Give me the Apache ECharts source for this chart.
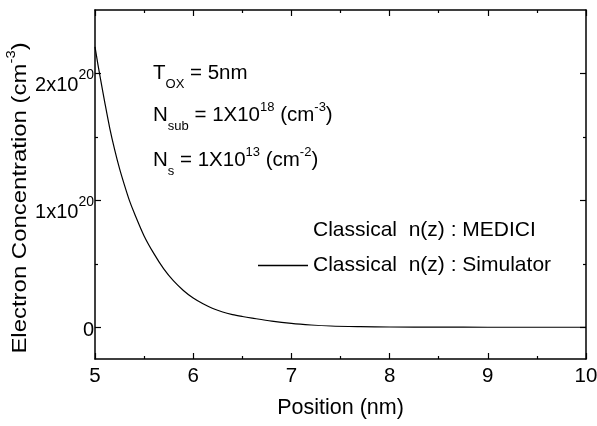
<!DOCTYPE html>
<html>
<head>
<meta charset="utf-8">
<script src="https://cdn.jsdelivr.net/npm/echarts@6/dist/echarts.min.js"></script>
<style>
  html, body { margin: 0; padding: 0; background: #ffffff; }
  #chart { width: 597px; height: 426px; }
</style>
</head>
<body>
<div id="chart"></div>
<script>
const FONT = '"Liberation Sans", Arial, Helvetica, sans-serif';

// Position along the depth (nm)
const position = [5.00, 5.03, 5.06, 5.10, 5.15, 5.20, 5.25, 5.30, 5.35, 5.40, 5.50,
                  5.60, 5.70, 5.80, 5.90, 6.00, 6.10, 6.20, 6.30, 6.40, 6.50, 6.60,
                  6.80, 7.00, 7.20, 7.40, 7.70, 8.00, 8.50, 9.00, 10.00];
// Classical n(z) from the simulator, in units of 1e20 cm^-3
const simulator = [2.21, 2.07, 1.94, 1.77, 1.57, 1.40, 1.25, 1.12, 1.00, 0.90, 0.72,
                   0.58, 0.46, 0.365, 0.29, 0.23, 0.185, 0.148, 0.12, 0.10, 0.085, 0.072,
                   0.048, 0.030, 0.018, 0.010, 0.005, 0.002, 0.001, 0.0, 0.0];
// Classical n(z) from MEDICI (no points drawn)
const medici = [];

const seriesNames = ['Classical  n(z) : MEDICI', 'Classical  n(z) : Simulator'];

const xMin = 5, xMax = 10, xStep = 1;
const yMin = -0.25, yMax = 2.5;
const yMajorTicks = [0, 1, 2];
const yMinorTicks = [0.5, 1.5];
const yTickLabels = { 0: '{z|0}', 1: '{b|1x10}{s|20}', 2: '{b|2x10}{s|20}' };
const yAxisTitle = '{b|Electron Concentration (cm}{s|-3}{b|)}';

const annotations = [
  '{m|T}{sub|OX}{m| = 5nm}',
  '{m|N}{sub|sub}{m| = 1X10}{sup|18}{m| (cm}{sup|-3}{m|)}',
  '{m|N}{sub|s}{m| = 1X10}{sup|13}{m| (cm}{sup|-2}{m|)}'
];
const annotationY = [73, 115, 160];

const AXIS_COLOR = '#000';
const annRich = {
  m:   { fontSize: 20.5, fontFamily: FONT, color: '#000', lineHeight: 44, verticalAlign: 'middle' },
  sub: { fontSize: 13, fontFamily: FONT, color: '#000', verticalAlign: 'bottom', padding: [0, 0, 4, 0] },
  sup: { fontSize: 13, fontFamily: FONT, color: '#000', verticalAlign: 'top', padding: [8, 0, 0, 0] }
};

const chart = echarts.init(document.getElementById('chart'), null, { renderer: 'canvas' });

function xAxisDef(pos, showLabels) {
  return {
    type: 'value', position: pos, min: xMin, max: xMax, interval: xStep,
    axisLine: { show: true, onZero: false, lineStyle: { color: AXIS_COLOR, width: 1.5 } },
    axisTick: { show: true, inside: true, length: 6, lineStyle: { color: AXIS_COLOR, width: 1.2 } },
    minorTick: { show: true, splitNumber: 2, length: 3, lineStyle: { color: AXIS_COLOR, width: 1.2 } },
    splitLine: { show: false },
    axisLabel: showLabels
      ? { show: true, margin: 7, fontSize: 20.5, fontFamily: FONT, color: '#000' }
      : { show: false },
    name: showLabels ? 'Position (nm)' : '',
    nameLocation: 'middle', nameGap: 38,
    nameTextStyle: { fontSize: 21.5, fontFamily: FONT, color: '#000' }
  };
}

function yAxisDef(pos, ticks, len, showLine, showLabels) {
  const def = {
    type: 'value', position: pos, min: yMin, max: yMax,
    axisLine: { show: showLine, onZero: false, lineStyle: { color: AXIS_COLOR, width: 1.5 } },
    axisTick: { show: true, inside: true, length: len, customValues: ticks,
                lineStyle: { color: AXIS_COLOR, width: 1.2 } },
    splitLine: { show: false },
    axisLabel: { show: false }
  };
  if (showLabels) {
    def.axisLabel = {
      show: true, customValues: yMajorTicks, margin: 1,
      formatter: v => yTickLabels[Math.round(v)],
      rich: {
        z: { fontSize: 20, fontFamily: FONT, color: '#000', lineHeight: 22, padding: [6, 0, 0, 0] },
        b: { fontSize: 20, fontFamily: FONT, color: '#000', lineHeight: 44, verticalAlign: 'bottom' },
        s: { fontSize: 14, fontFamily: FONT, color: '#000', verticalAlign: 'top', padding: [17, 0, 0, 0] }
      }
    };
  }
  return def;
}

chart.setOption({
  animation: false,
  backgroundColor: '#fff',
  grid: { left: 95, right: 11, top: 10, bottom: 67, containLabel: false, outerBoundsMode: 'none' },
  xAxis: [xAxisDef('bottom', true), xAxisDef('top', false)],
  yAxis: [
    yAxisDef('left', yMajorTicks, 6, true, true),
    yAxisDef('left', yMinorTicks, 3, false, false),
    yAxisDef('right', yMajorTicks, 6, true, false),
    yAxisDef('right', yMinorTicks, 3, false, false)
  ],
  legend: {
    orient: 'vertical', left: 258, top: 220, padding: 0,
    itemWidth: 50, itemHeight: 1.4, itemGap: 14,
    textStyle: { fontSize: 21, fontFamily: FONT, color: '#000', lineHeight: 20 },
    data: [
      { name: seriesNames[0], icon: 'rect', itemStyle: { color: 'rgba(0,0,0,0)' } },
      { name: seriesNames[1], icon: 'rect', itemStyle: { color: '#000' } }
    ],
    selectedMode: false
  },
  series: [
    {
      name: seriesNames[0], type: 'line', xAxisIndex: 0, yAxisIndex: 0,
      data: medici, showSymbol: false, symbol: 'none',
      lineStyle: { color: 'rgba(0,0,0,0)', width: 0 },
      itemStyle: { color: 'rgba(0,0,0,0)' }
    },
    {
      name: seriesNames[1], type: 'line', xAxisIndex: 0, yAxisIndex: 0,
      data: position.map((p, i) => [p, simulator[i]]),
      showSymbol: false, symbol: 'none', smooth: 0.3,
      lineStyle: { color: '#000', width: 1.2 },
      itemStyle: { color: '#000' }
    }
  ],
  graphic: [
    // rotated y-axis title, stretched along its reading direction
    {
      type: 'text', x: 11, y: 198, rotation: Math.PI / 2, scaleX: 1.14, silent: true,
      style: {
        text: yAxisTitle, align: 'center', verticalAlign: 'middle',
        rich: {
          b: { fontSize: 21, fontFamily: FONT, color: '#000', lineHeight: 40, verticalAlign: 'bottom' },
          s: { fontSize: 13, fontFamily: FONT, color: '#000', verticalAlign: 'top', padding: [14, 0, 0, 0] }
        }
      }
    }
  ].concat(annotations.map((t, i) => ({
    type: 'text', x: 153, y: annotationY[i], silent: true,
    style: { text: t, rich: annRich, verticalAlign: 'middle', align: 'left' }
  })))
});
</script>
</body>
</html>
